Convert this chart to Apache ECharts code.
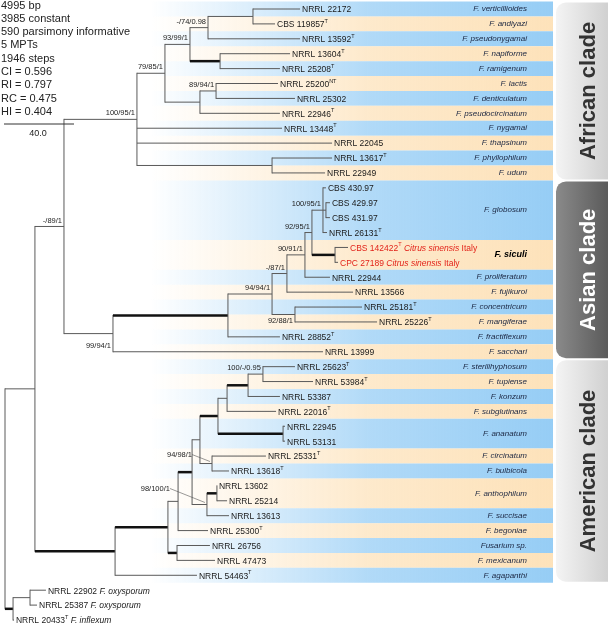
<!DOCTYPE html>
<html><head><meta charset="utf-8">
<script src="https://cdn.jsdelivr.net/npm/echarts@6/dist/echarts.min.js"></script>
<style>html,body{margin:0;padding:0;background:#fff}#c{width:608px;height:625px}</style>
</head><body><div id="c"></div>
<script>
// ---------------- DATA ----------------
const statsLines = ['4995 bp','3985 constant','590 parsimony informative','5 MPTs','1946 steps','CI = 0.596','RI = 0.797','RC = 0.475','HI = 0.404'];
const scaleBarValue = 40.0;

const leafNames = [
 'NRRL 22172','CBS 119857','NRRL 13592','NRRL 13604','NRRL 25208','NRRL 25200','NRRL 25302','NRRL 22946','NRRL 13448','NRRL 22045','NRRL 13617','NRRL 22949',
 'CBS 430.97','CBS 429.97','CBS 431.97','NRRL 26131','CBS 142422','CPC 27189','NRRL 22944','NRRL 13566','NRRL 25181','NRRL 25226','NRRL 28852','NRRL 13999',
 'NRRL 25623','NRRL 53984','NRRL 53387','NRRL 22016','NRRL 22945','NRRL 53131','NRRL 25331','NRRL 13618','NRRL 13602','NRRL 25214','NRRL 13613','NRRL 25300','NRRL 26756','NRRL 47473','NRRL 54463',
 'NRRL 22902','NRRL 25387','NRRL 20433'];
const leafSup = ['','T','T','T','T','NT','','T','T','','T','',
 '','','','T','T','','','','T','T','T','',
 'T','T','','T','','','T','T','','','','T','','','T',
 '','','T'];
const leafHost = {16:'Citrus sinensis',17:'Citrus sinensis'};
const leafSpeciesTag = {39:'F. oxysporum',40:'F. oxysporum',41:'F. inflexum'};
// tip depth from root (tree length units)
const leafTips = [168.6,154.3,168.6,162.9,157.1,156.0,165.7,157.1,158.3,186.9,186.9,182.9,
 183.4,185.7,185.7,184.0,196.0,190.3,185.7,198.9,204.0,212.6,157.1,181.7,
 165.7,176.0,157.1,154.9,160.0,160.0,149.1,128.0,121.1,126.9,128.0,116.0,117.1,120.0,109.7,
 23.4,18.3,5.1];
// internal nodes: [id, depth, children]
const internalNodes = [
 ['R',0,['I','O']],
 ['O',4.6,['OX','L41']],
 ['OX',14.3,['L39','L40']],
 ['I',17.1,['AA','AM']],
 ['AA',33.7,['AF','AS']],
 ['AF',75.4,['F1','L8','L9','F2']],
 ['F1',91.4,['F3','F4']],
 ['F3',105.7,['F5','F6']],
 ['F5',116.0,['F7','L2']],
 ['F7',141.7,['L0','L1']],
 ['F6',122.9,['L3','L4']],
 ['F4',111.4,['F8','L7']],
 ['F8',120.6,['L5','L6']],
 ['F2',152.6,['L10','L11']],
 ['AS',61.7,['S1','L23']],
 ['S1',127.4,['S2','L22']],
 ['S2',152.6,['S3','S4']],
 ['S3',161.1,['S5','L19']],
 ['S5',171.4,['S6','L18']],
 ['S6',175.4,['G1','SC']],
 ['G1',181.7,['L12','G2','L15']],
 ['G2',183.4,['L13','L14']],
 ['SC',188.6,['L16','L17']],
 ['S4',165.7,['L20','L21']],
 ['AM',62.9,['M1','L38']],
 ['M1',93.1,['M2','M3']],
 ['M3',98.3,['L36','L37']],
 ['M2',98.9,['M4','L35']],
 ['M4',106.9,['P4','N98']],
 ['P4',111.4,['P3','N94']],
 ['P3',121.7,['P2','AN2']],
 ['P2',126.9,['P1','L27']],
 ['P1',138.9,['N100','L26']],
 ['N100',147.4,['L24','L25']],
 ['AN2',158.9,['L28','L29']],
 ['N94',118.3,['L30','L31']],
 ['N98',115.4,['AN','L34']],
 ['AN',121.1,['L32','L33']]
];
const thickBranches = ['O','F6','S1','SC','AM','M1','M3','M4','P3','P1','AN2','AN'];
const supportNodes = ['AA','AF','F1','F3','F5','F8','AS','S2','S3','S5','S6','G1','S4','N100','N94','N98'];
const supportValues = ['-/89/1','100/95/1','79/85/1','93/99/1','-/74/0.98','89/94/1','99/94/1','94/94/1','-/87/1','90/91/1','92/95/1','100/95/1','92/88/1','100/-/0.95','94/98/1','98/100/1'];

const speciesNames = ['F. verticillioides','F. andiyazi','F. pseudonygamai','F. napiforme','F. ramigenum','F. lactis','F. denticulatum','F. pseudocircinatum','F. nygamai','F. thapsinum','F. phyllophilum','F. udum',
 'F. globosum','F. siculi','F. proliferatum','F. fujikuroi','F. concentricum','F. mangiferae','F. fractiflexum','F. sacchari',
 'F. sterilihyphosum','F. tupiense','F. konzum','F. subglutinans','F. ananatum','F. circinatum','F. bulbicola','F. anthophilum','F. succisae','F. begoniae','Fusarium sp.','F. mexicanum','F. agapanthi'];
const speciesFirstRow = [0,1,2,3,4,5,6,7,8,9,10,11, 12,16,18,19,20,21,22,23, 24,25,26,27,28,30,31,32,34,35,36,37,38];
const speciesLastRow  = [0,1,2,3,4,5,6,7,8,9,10,11, 15,17,18,19,20,21,22,23, 24,25,26,27,29,30,31,33,34,35,36,37,38];

const cladeNames = ['African clade','Asian clade','American clade'];
const cladeFirstRow = [0,12,24];
const cladeLastRow = [11,23,38];

// ---------------- STYLE ----------------
const FONT = "'Liberation Sans', Arial, sans-serif";
const BLUE = [150,205,245], ORANGE = [253,226,186];
const BAND_X0 = 150, BAND_X1 = 553, SPECIES_X = 527, CLADE_X0 = 556;
// [dx, dy, leaderLine]
const labelOffsets = { N94: [-20,-9,true], N98: [-37,-16,true], S4: [-2,6,false], AS: [-2,12,false] };

// ---------------- TREE LAYOUT ----------------
const depth = {}, yPos = {}, kids = {};
leafNames.forEach((n,i)=>{ depth['L'+i]=leafTips[i]; yPos['L'+i]=i; });
internalNodes.forEach(([id,d,ch])=>{ depth[id]=d; kids[id]=ch; });
const parent = {};
internalNodes.forEach(([id,d,ch])=>ch.forEach(c=>parent[c]=id));
function getY(id){
  if (yPos[id]!==undefined) return yPos[id];
  const ch = kids[id];
  const y = (getY(ch[0]) + getY(ch[ch.length-1]))/2;
  yPos[id]=y; return y;
}
internalNodes.forEach(n=>getY(n[0]));
const branchData = [];
Object.keys(depth).forEach(id=>{
  const p = parent[id];
  const isInt = kids[id] ? 1 : 0;
  const ch = kids[id]||[];
  const y0 = isInt ? getY(ch[0]) : yPos[id];
  const y1 = isInt ? getY(ch[ch.length-1]) : yPos[id];
  branchData.push([p!==undefined?depth[p]:depth[id], depth[id], yPos[id], y0, y1, thickBranches.includes(id)?1:0, isInt]);
});
const leafData = leafNames.map((n,i)=>[leafTips[i], i, i]);
const supportData = supportNodes.map((id,i)=>[depth[id], yPos[id], i]);
const bandData = speciesNames.map((n,i)=>[0, speciesFirstRow[i], speciesLastRow[i], i]);
const cladeData = cladeNames.map((n,i)=>[0, cladeFirstRow[i], cladeLastRow[i], i]);

function leafRich(i){
  const red = leafHost[i]!==undefined;
  const b = red ? 'r' : 'n';
  let s = `{${b}|${leafNames[i]}}`;
  if (leafSup[i]) s += `{${red?'rs':'s'}|${leafSup[i]}}`;
  if (red) s += `{ri| ${leafHost[i]}}{r| Italy}`;
  if (leafSpeciesTag[i]) s += `{i| ${leafSpeciesTag[i]}}`;
  return s;
}
const richStyles = {
  n:{fontSize:8.5,fontFamily:FONT,fill:'#1a1a1a',lineHeight:11,verticalAlign:'bottom'},
  s:{fontSize:5.5,fontFamily:FONT,fill:'#1a1a1a',lineHeight:11,verticalAlign:'top'},
  i:{fontSize:8.5,fontFamily:FONT,fontStyle:'italic',fill:'#1a1a1a',lineHeight:11,verticalAlign:'bottom'},
  r:{fontSize:8.5,fontFamily:FONT,fill:'#e2231a',lineHeight:11,verticalAlign:'bottom'},
  rs:{fontSize:5.5,fontFamily:FONT,fill:'#e2231a',lineHeight:11,verticalAlign:'top'},
  ri:{fontSize:8.5,fontFamily:FONT,fontStyle:'italic',fill:'#e2231a',lineHeight:11,verticalAlign:'bottom'}
};
const rgba=(c,a)=>`rgba(${c[0]},${c[1]},${c[2]},${a})`;

const chart = echarts.init(document.getElementById('c'), null, {renderer:'canvas'});
chart.setOption({
  animation:false,
  grid:{left:5, width:602, top:9, height:611},
  xAxis:{type:'value', min:0, max:344, show:false},
  yAxis:{type:'value', min:0, max:41, inverse:true, show:false},
  graphic: statsLines.map((t,i)=>({type:'text', left:1, top:0+i*13.3, style:{text:t, font:`11px ${FONT}`, fill:'#222'}})),
  series:[
    { // species bands
      type:'custom', data:bandData, z:1, clip:false,
      renderItem:(params,api)=>{
        const r0=api.value(1), r1=api.value(2), i=api.value(3);
        const a=api.coord([0,r0-0.5]), b=api.coord([0,r1+0.5]);
        const c = i%2===0 ? BLUE : ORANGE;
        return {type:'rect', shape:{x:BAND_X0, y:a[1], width:BAND_X1-BAND_X0, height:b[1]-a[1]},
          style:{fill:new echarts.graphic.LinearGradient(0,0,1,0,[{offset:0,color:rgba(c,0)},{offset:0.55,color:rgba(c,0.75)},{offset:1,color:rgba(c,1)}])}};
      }
    },
    { // species names
      type:'custom', data:bandData, z:5, clip:false,
      renderItem:(params,api)=>{
        const r0=api.value(1), r1=api.value(2), i=api.value(3);
        const p=api.coord([0,(r0+r1)/2]);
        const bold = speciesNames[i]==='F. siculi';
        return {type:'text', x:SPECIES_X, y:p[1], style:{text:speciesNames[i], align:'right', verticalAlign:'middle',
          font:`italic ${bold?'bold ':''}${bold?9:8}px ${FONT}`, fill: bold?'#000':'#1a2540'}};
      }
    },
    { // clade boxes
      type:'custom', data:cladeData, z:2, clip:false,
      renderItem:(params,api)=>{
        const r0=api.value(1), r1=api.value(2), i=api.value(3);
        const a=api.coord([0,r0-0.5]), b=api.coord([0,r1+0.5]);
        const dark = i===1;
        return {type:'group', children:[
          {type:'rect', shape:{x:CLADE_X0, y:a[1]+1, width:70, height:b[1]-a[1]-2, r:[10,0,0,10]},
            style:{fill:new echarts.graphic.LinearGradient(0,0,1,0, dark?[{offset:0,color:'#8a8a8a'},{offset:1,color:'#4a4a4a'}]:[{offset:0,color:'#f4f4f4'},{offset:1,color:'#c4c4c4'}])}},
          {type:'text', x:589, y:(a[1]+b[1])/2, rotation:Math.PI/2,
            style:{text:cladeNames[i], align:'center', verticalAlign:'middle', font:`bold 22px ${FONT}`, fill: dark?'#fff':'#333'}}
        ]};
      }
    },
    { // branches
      type:'custom', data:branchData, z:10, clip:false,
      renderItem:(params,api)=>{
        const pd=api.value(0), d=api.value(1), y=api.value(2), y0=api.value(3), y1=api.value(4), thick=api.value(5), isInt=api.value(6);
        const a=api.coord([pd,y]), b=api.coord([d,y]);
        const ch=[{type:'line', shape:{x1:a[0],y1:a[1],x2:b[0],y2:b[1]}, style:{stroke:thick?'#111':'#5a5a5a', lineWidth:thick?2.5:1}}];
        if (isInt){
          const c=api.coord([d,y0]), e=api.coord([d,y1]);
          ch.push({type:'line', shape:{x1:c[0],y1:c[1]-0.5,x2:e[0],y2:e[1]+0.5}, style:{stroke:'#5a5a5a', lineWidth:1}});
        }
        return {type:'group', children:ch};
      }
    },
    { // leaf labels
      type:'custom', data:leafData, z:11, clip:false,
      renderItem:(params,api)=>{
        const i=api.value(2); const p=api.coord([api.value(0),api.value(1)]);
        return {type:'text', x:p[0]+2, y:p[1], style:{text:leafRich(i), rich:richStyles, align:'left', verticalAlign:'middle'}};
      }
    },
    { // support values
      type:'custom', data:supportData, z:12, clip:false,
      renderItem:(params,api)=>{
        const i=api.value(2); const p=api.coord([api.value(0),api.value(1)]);
        const off = labelOffsets[supportNodes[i]];
        if (off){
          const tx=p[0]+off[0], ty=p[1]+off[1];
          const ch=[{type:'text', x:tx, y:ty, style:{text:supportValues[i], align:'right', verticalAlign:'middle', font:`7.5px ${FONT}`, fill:'#222'}}];
          if (off[2]) ch.push({type:'line', shape:{x1:tx,y1:ty,x2:p[0]-2,y2:p[1]-2}, style:{stroke:'#555', lineWidth:0.6}});
          return {type:'group', children:ch};
        }
        return {type:'text', x:p[0]-2, y:p[1]-2, style:{text:supportValues[i], align:'right', verticalAlign:'bottom', font:`7.5px ${FONT}`, fill:'#222'}};
      }
    },
    { // scale bar
      type:'custom', data:[[0, scaleBarValue]], z:12, clip:false,
      renderItem:(params,api)=>{
        const a=api.coord([0,0]), b=api.coord([api.value(1),0]);
        const y=124;
        return {type:'group', children:[
          {type:'line', shape:{x1:a[0]-1,y1:y,x2:b[0]-1,y2:y}, style:{stroke:'#333', lineWidth:1}},
          {type:'text', x:(a[0]+b[0])/2-2, y:y+5, style:{text:api.value(1).toFixed(1), align:'center', verticalAlign:'top', font:`9px ${FONT}`, fill:'#222'}}
        ]};
      }
    }
  ]
});
</script></body></html>
